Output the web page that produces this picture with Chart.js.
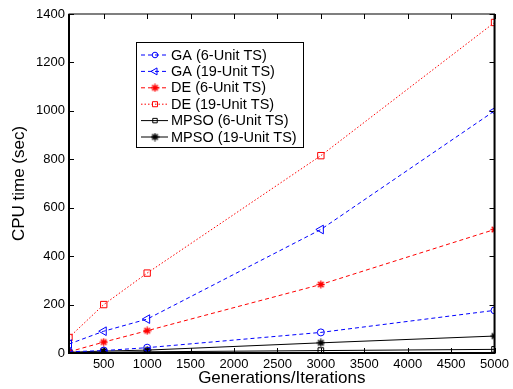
<!DOCTYPE html>
<html><head><meta charset="utf-8">
<script src="https://cdn.jsdelivr.net/npm/chart.js@4"></script>
<style>html,body{margin:0;padding:0;background:#fff}#c{display:block}</style>
</head><body>
<canvas id="c" width="513" height="389"></canvas>
<script>
const iterations = [100, 500, 1000, 3000, 5000];
const gaSix = [5, 10, 22, 85, 176];
const gaNineteen = [37, 90, 140, 510, 1000];
const deSix = [5, 45, 92, 283, 510];
const deNineteen = [64, 200, 330, 815, 1365];
const mpsoSix = [1, 3, 5, 10, 15];
const mpsoNineteen = [3, 8, 12, 42, 70];
const xTicks = [500, 1000, 1500, 2000, 2500, 3000, 3500, 4000, 4500, 5000];
const yTicks = [0, 200, 400, 600, 800, 1000, 1200, 1400];
const labels = ['GA (6-Unit TS)', 'GA (19-Unit TS)', 'DE (6-Unit TS)', 'DE (19-Unit TS)', 'MPSO (6-Unit TS)', 'MPSO (19-Unit TS)'];

const FONT = 'Liberation Sans, Arial, sans-serif';

function pts(arr){ return iterations.map((x,i)=>({x:x,y:arr[i]})); }

function starCanvas(color){
  const c=document.createElement('canvas'); c.width=9; c.height=9;
  const g=c.getContext('2d'); g.strokeStyle=color; g.lineWidth=1.3;
  g.beginPath();
  for(let k=0;k<4;k++){const a=k*Math.PI/4; g.moveTo(4.5+4*Math.cos(a),4.5+4*Math.sin(a)); g.lineTo(4.5-4*Math.cos(a),4.5-4*Math.sin(a));}
  g.stroke(); g.fillStyle=color; g.beginPath(); g.arc(4.5,4.5,2,0,Math.PI*2); g.fill();
  return c;
}
const redStar=starCanvas('#ff0000'), blackStar=starCanvas('#000000');

const datasets = [
  {label:labels[0], data:pts(gaSix), borderColor:'#0000ff', backgroundColor:'rgba(0,0,0,0)', borderDash:[4,3], pointStyle:'circle', pointRadius:3.5, pointBorderColor:'#0000ff'},
  {label:labels[1], data:pts(gaNineteen), borderColor:'#0000ff', backgroundColor:'rgba(0,0,0,0)', borderDash:[4,3], pointStyle:'triangle', rotation:-90, pointRadius:5, pointBorderColor:'#0000ff'},
  {label:labels[2], data:pts(deSix), borderColor:'#ff0000', backgroundColor:'#ff0000', borderDash:[4,3], pointStyle:redStar, pointRadius:4},
  {label:labels[3], data:pts(deNineteen), borderColor:'#ff0000', backgroundColor:'rgba(0,0,0,0)', borderDash:[1.5,2], pointStyle:'rect', pointRadius:4.5, pointBorderColor:'#ff0000'},
  {label:labels[4], data:pts(mpsoSix), borderColor:'#000000', backgroundColor:'rgba(0,0,0,0)', pointStyle:'rect', pointRadius:4, pointBorderColor:'#000000'},
  {label:labels[5], data:pts(mpsoNineteen), borderColor:'#000000', backgroundColor:'#000000', pointStyle:blackStar, pointRadius:4},
];
datasets.forEach(d=>{d.borderWidth=1; d.pointBorderWidth=1; d.fill=false; d.tension=0; d.pointHoverRadius=d.pointRadius;});

const frame = {
  id:'frame',
  afterDatasetsDraw(chart){
    const ctx=chart.ctx, a=chart.chartArea, xs=chart.scales.x, ys=chart.scales.y;
    ctx.save(); ctx.strokeStyle='#000'; ctx.setLineDash([]);
    ctx.lineWidth=1;
    ctx.strokeRect(a.left, a.top, a.right-a.left, a.bottom-a.top);
    ctx.lineWidth=2;
    ctx.beginPath(); ctx.moveTo(a.left,a.top); ctx.lineTo(a.left,a.bottom); ctx.lineTo(a.right,a.bottom); ctx.lineTo(a.right,a.top); ctx.stroke();
    ctx.lineWidth=1;
    ctx.beginPath();
    xTicks.forEach(v=>{const x=Math.round(xs.getPixelForValue(v))+0.5;
      ctx.moveTo(x,a.bottom); ctx.lineTo(x,a.bottom-5); ctx.moveTo(x,a.top); ctx.lineTo(x,a.top+5);});
    yTicks.forEach(v=>{const y=Math.round(ys.getPixelForValue(v))+0.5;
      ctx.moveTo(a.left,y); ctx.lineTo(a.left+5,y); ctx.moveTo(a.right,y); ctx.lineTo(a.right-5,y);});
    ctx.stroke();
    // legend
    const lx=136, ly=42, lw=167, lh=105;
    ctx.fillStyle='#fff'; ctx.fillRect(lx,ly,lw,lh);
    ctx.strokeRect(lx+0.5,ly+0.5,lw,lh);
    ctx.font='14.5px '+FONT; ctx.textBaseline='middle'; ctx.textAlign='left';
    datasets.forEach((d,i)=>{
      const y=ly+13+i*16.4;
      ctx.save(); ctx.strokeStyle=d.borderColor; ctx.lineWidth=1; ctx.setLineDash(d.borderDash||[]);
      ctx.beginPath(); ctx.moveTo(lx+5,y); ctx.lineTo(lx+32,y); ctx.stroke(); ctx.restore();
      const cx=lx+19;
      ctx.save(); ctx.setLineDash([]); ctx.strokeStyle=d.pointBorderColor||d.borderColor; ctx.fillStyle=d.backgroundColor; ctx.lineWidth=1;
      if(typeof d.pointStyle==='string'){ ctx.beginPath();
        const r=d.pointRadius*0.8;
        if(d.pointStyle==='circle'){ctx.arc(cx,y,r,0,Math.PI*2);}
        else if(d.pointStyle==='rect'){ctx.rect(cx-r*0.7,y-r*0.7,r*1.4,r*1.4);}
        else if(d.pointStyle==='triangle'){ctx.moveTo(cx-r,y);ctx.lineTo(cx+r*0.5,y-r*0.87);ctx.lineTo(cx+r*0.5,y+r*0.87);ctx.closePath();}
        ctx.stroke(); }
      else { ctx.drawImage(d.pointStyle, cx-4.5, y-4.5); }
      ctx.restore();
      ctx.fillStyle='#000'; ctx.fillText(d.label, lx+35, y+0.5);
    });
    ctx.restore();
  }
};

new Chart(document.getElementById('c'), {
  type:'line',
  data:{datasets:datasets},
  options:{
    responsive:false, animation:false, devicePixelRatio:1,
    layout:{padding:{top:14, right:16, left:0, bottom:0}},
    plugins:{legend:{display:false}, tooltip:{enabled:false}},
    scales:{
      x:{type:'linear', min:100, max:5000,
        afterBuildTicks(s){ s.ticks = xTicks.map(v=>({value:v})); },
        afterFit(s){ s.height = 36; },
        grid:{display:false, drawTicks:false}, border:{display:false},
        ticks:{color:'#000', font:{family:FONT, size:13}, padding:4, maxRotation:0, autoSkip:false, callback:v=>String(v)},
        title:{display:true, text:'Generations/Iterations', color:'#000', font:{family:FONT, size:17}, padding:{top:0,bottom:0}}
      },
      y:{type:'linear', min:0, max:1400,
        afterBuildTicks(s){ s.ticks = yTicks.map(v=>({value:v})); },
        afterFit(s){ s.width = 69; },
        grid:{display:false, drawTicks:false}, border:{display:false},
        ticks:{color:'#000', font:{family:FONT, size:13}, padding:4, autoSkip:false, callback:v=>String(v)},
        title:{display:true, text:'CPU time (sec)', color:'#000', font:{family:FONT, size:17}, padding:{top:9,bottom:0}}
      }
    }
  },
  plugins:[frame]
});
</script>
</body></html>
